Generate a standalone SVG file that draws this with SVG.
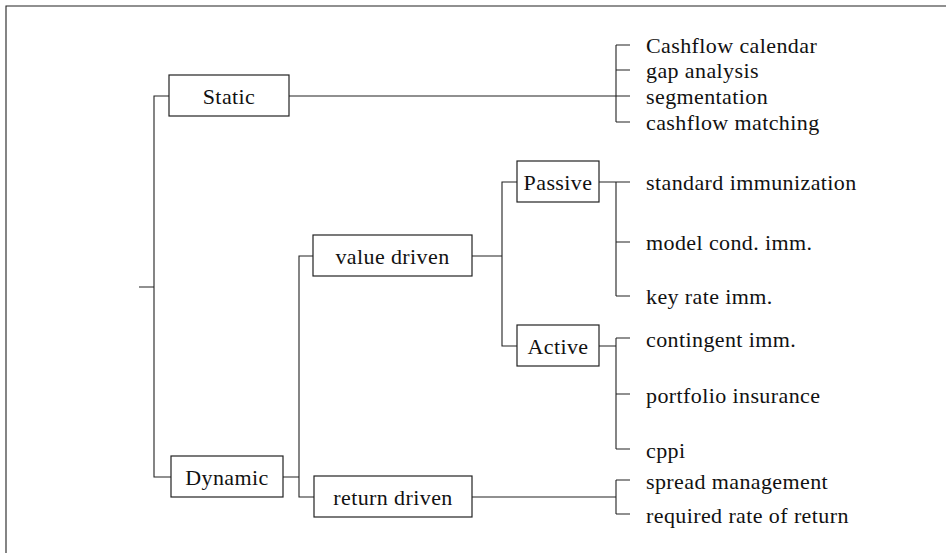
<svg xmlns="http://www.w3.org/2000/svg" width="946" height="553" viewBox="0 0 946 553">
<style>
.box{fill:#fff;stroke:#222;stroke-width:1.2}
.ln{fill:none;stroke:#222;stroke-width:1.1}
.t{font-family:"Liberation Serif","Times New Roman",serif;font-size:22px;letter-spacing:0.4px;fill:#111;dominant-baseline:central}
.c{text-anchor:middle}
</style>
<rect width="946" height="553" fill="#fff"/>
<g id="connectors" class="ln">
<path d="M6 553V6H946"/>
<path d="M139 287H154M169 96H154V477H171"/>
<path d="M289 96H630M616 45V122M616 45H630M616 70H630M616 122H630"/>
<path d="M283 477H299M313 256H299V497H314"/>
<path d="M472 256H502M517 182H502V346H517"/>
<path d="M599 182H630M616 182V296M616 242H630M616 296H630"/>
<path d="M599 346H616M616 338V449M616 338H630M616 394H630M616 449H630"/>
<path d="M472 497H616M616 480V514M616 480H630M616 514H630"/>
</g>
<g id="static"><rect class="box" x="169" y="75" width="120" height="41"/><text class="t c" x="229" y="96">Static</text></g>
<g id="dynamic"><rect class="box" x="171" y="456" width="112" height="41"/><text class="t c" x="227" y="477">Dynamic</text></g>
<g id="value-driven"><rect class="box" x="313" y="235" width="159" height="41"/><text class="t c" x="392.5" y="256">value driven</text></g>
<g id="return-driven"><rect class="box" x="314" y="476" width="158" height="41"/><text class="t c" x="393" y="497">return driven</text></g>
<g id="passive"><rect class="box" x="517" y="161" width="82" height="41"/><text class="t c" x="558" y="182">Passive</text></g>
<g id="active"><rect class="box" x="517" y="325" width="82" height="41"/><text class="t c" x="558" y="346">Active</text></g>
<g id="static-items">
<text class="t" x="646" y="45">Cashflow calendar</text>
<text class="t" x="646" y="70">gap analysis</text>
<text class="t" x="646" y="96">segmentation</text>
<text class="t" x="646" y="122">cashflow matching</text>
</g>
<g id="passive-items">
<text class="t" x="646" y="182">standard immunization</text>
<text class="t" x="646" y="242">model cond. imm.</text>
<text class="t" x="646" y="296">key rate imm.</text>
</g>
<g id="active-items">
<text class="t" x="646" y="339">contingent imm.</text>
<text class="t" x="646" y="395">portfolio insurance</text>
<text class="t" x="646" y="450">cppi</text>
</g>
<g id="return-items">
<text class="t" x="646" y="481">spread management</text>
<text class="t" x="646" y="515">required rate of return</text>
</g>
</svg>
